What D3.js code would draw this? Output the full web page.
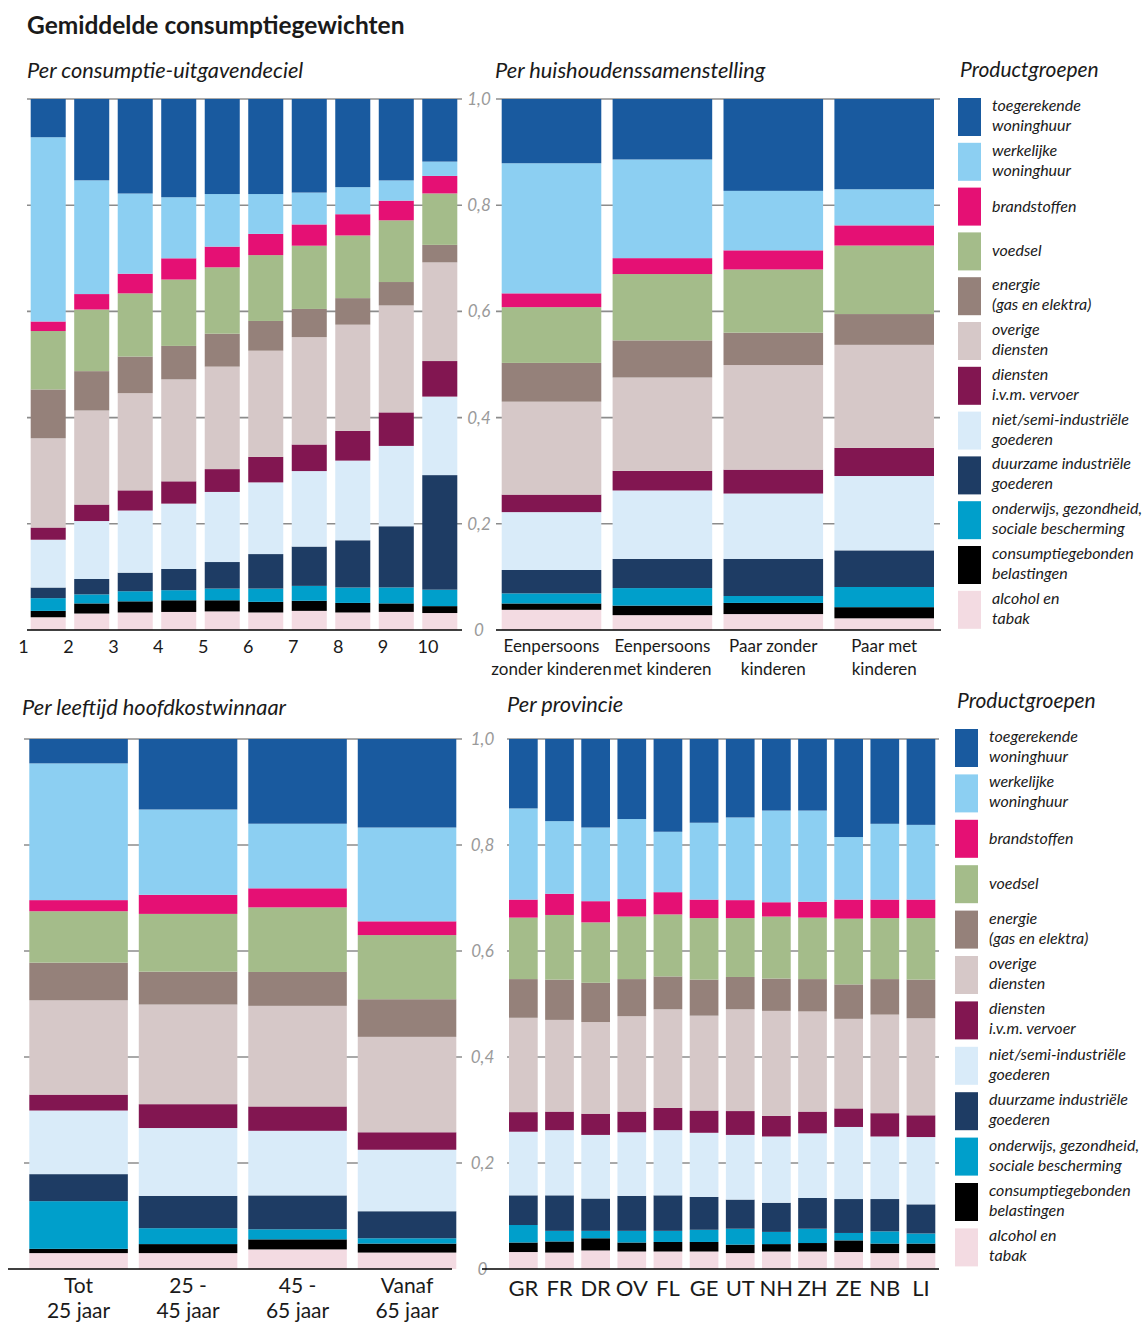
<!DOCTYPE html>
<html lang="nl">
<head>
<meta charset="UTF-8">
<title>Gemiddelde consumptiegewichten</title>
<script src="https://cdn.jsdelivr.net/npm/d3@7"></script>
<style>
  body { margin: 0; background: #fff; }
  svg text { font-family: Lato, "Open Sans", sans-serif; fill: #1a1a1a; }
  .ytick { font-style: italic; fill: #9a9a9a; font-size: 17px; }
  .title { font-style: italic; font-size: 21.8px; }
  .legend text { font-style: italic; font-size: 16px; }
</style>
</head>
<body>
<div id="chart"></div>
<script>
// productgroepen, van boven naar onder in de staaf
const groepen = ["toegerekende woninghuur", "werkelijke woninghuur", "brandstoffen", "voedsel",
  "energie", "overige diensten", "diensten i.v.m. vervoer", "niet/semi-industriele goederen",
  "duurzame industriele goederen", "onderwijs", "belastingen", "alcohol en tabak"];
const legendaRegels = [["toegerekende", "woninghuur"], ["werkelijke", "woninghuur"], ["brandstoffen"],
  ["voedsel"], ["energie", "(gas en elektra)"], ["overige", "diensten"], ["diensten", "i.v.m. vervoer"],
  ["niet/semi-industriële", "goederen"], ["duurzame industriële", "goederen"],
  ["onderwijs, gezondheid,", "sociale bescherming"], ["consumptiegebonden", "belastingen"],
  ["alcohol en", "tabak"]];
const kleuren = ["#195a9f", "#8ccff2", "#e51074", "#a4bc8a", "#95817a", "#d6c8c8",
  "#821651", "#d9ebf9", "#1e3c64", "#009fcb", "#000000", "#f3dbe2"];

const yTicks = [0, 0.2, 0.4, 0.6, 0.8, 1.0];

// per consumptie-uitgavendeciel
const decielen = ["1", "2", "3", "4", "5", "6", "7", "8", "9", "10"];
const decielWaarden = [
  [.072, .347, .018, .110, .092, .168, .023, .090, .020, .024, .012, .024],
  [.153, .214, .029, .116, .074, .177, .031, .109, .029, .017, .019, .031],
  [.178, .151, .037, .119, .069, .183, .038, .117, .035, .019, .021, .033],
  [.185, .115, .040, .125, .063, .192, .042, .123, .040, .019, .022, .034],
  [.179, .099, .039, .125, .062, .193, .043, .132, .050, .022, .021, .035],
  [.179, .075, .040, .124, .056, .200, .048, .135, .065, .025, .020, .033],
  [.176, .060, .040, .119, .053, .202, .050, .142, .074, .028, .019, .036],
  [.166, .051, .040, .118, .050, .200, .056, .150, .089, .029, .018, .033],
  [.153, .038, .037, .116, .044, .201, .063, .151, .115, .030, .016, .034],
  [.118, .027, .033, .097, .033, .186, .067, .148, .216, .031, .013, .032]
];

// per huishoudenssamenstelling
const huishoudens = ["Eenpersoons zonder kinderen", "Eenpersoons met kinderen", "Paar zonder kinderen", "Paar met kinderen"];
const huishoudenLabels = [["Eenpersoons", "zonder kinderen"], ["Eenpersoons", "met kinderen"], ["Paar zonder", "kinderen"], ["Paar met", "kinderen"]];
const huishoudenWaarden = [
  [.121, .245, .026, .105, .073, .175, .033, .109, .044, .019, .012, .038],
  [.114, .186, .030, .125, .070, .176, .037, .129, .055, .033, .018, .028],
  [.173, .112, .036, .119, .061, .197, .045, .123, .070, .013, .021, .030],
  [.170, .068, .038, .129, .058, .194, .053, .140, .069, .038, .021, .022]
];

// per leeftijd hoofdkostwinnaar
const leeftijden = ["Tot 25 jaar", "25 - 45 jaar", "45 - 65 jaar", "Vanaf 65 jaar"];
const leeftijdLabels = [["Tot", "25 jaar"], ["25 -", "45 jaar"], ["45 -", "65 jaar"], ["Vanaf", "65 jaar"]];
const leeftijdWaarden = [
  [.046, .258, .021, .097, .071, .178, .030, .120, .051, .090, .008, .030],
  [.133, .161, .036, .109, .062, .188, .045, .128, .061, .030, .017, .030],
  [.160, .122, .036, .122, .064, .190, .046, .122, .064, .019, .019, .037],
  [.167, .177, .026, .121, .071, .180, .033, .116, .051, .010, .017, .031]
];

// per provincie
const provincies = ["GR", "FR", "DR", "OV", "FL", "GE", "UT", "NH", "ZH", "ZE", "NB", "LI"];
const provincieWaarden = [
  [.131, .172, .034, .116, .073, .178, .037, .120, .056, .033, .018, .032],
  [.155, .137, .040, .122, .076, .173, .035, .123, .067, .020, .021, .031],
  [.167, .139, .040, .114, .074, .173, .040, .120, .061, .014, .023, .035],
  [.151, .151, .033, .118, .070, .180, .039, .120, .066, .022, .017, .033],
  [.175, .114, .042, .117, .062, .186, .042, .123, .067, .021, .018, .033],
  [.158, .145, .035, .116, .068, .179, .042, .121, .062, .023, .018, .033],
  [.148, .156, .034, .111, .061, .192, .045, .122, .055, .030, .016, .030],
  [.135, .173, .027, .117, .061, .198, .039, .125, .055, .023, .014, .033],
  [.135, .172, .030, .116, .061, .189, .041, .122, .058, .027, .016, .033],
  [.185, .118, .036, .124, .065, .169, .035, .136, .064, .014, .022, .032],
  [.160, .143, .035, .115, .067, .186, .044, .118, .061, .023, .018, .030],
  [.162, .141, .035, .116, .073, .183, .041, .127, .055, .019, .018, .030]
];

const width = 1148;
const height = 1322;

const svg = d3.select("#chart")
  .append("svg")
  .attr("width", width)
  .attr("height", height);

const kleur = d3.scaleOrdinal().domain(groepen).range(kleuren);
const tickFormat = d => d === 0 ? "0" : d3.format(".1f")(d).replace(".", ",");

function drawPanel(p) {
  const rows = p.cats.map((c, i) => {
    const r = {cat: c};
    groepen.forEach((g, j) => r[g] = p.values[i][j]);
    return r;
  });
  // onderste groep eerst stapelen
  const series = d3.stack()
    .keys(groepen.slice().reverse())
    .offset(d3.stackOffsetExpand)(rows);

  const x = d3.scaleBand().domain(p.cats).range(p.xRange).paddingInner(p.pad).paddingOuter(0);
  const y = d3.scaleLinear().domain([0, 1]).range(p.yRange);

  const g = svg.append("g");

  // grijze rasterlijnen
  g.append("g").selectAll("line")
    .data(yTicks.filter(d => d > 0))
    .join("line")
    .attr("x1", p.grid[0]).attr("x2", p.grid[1])
    .attr("y1", d => y(d)).attr("y2", d => y(d))
    .attr("stroke", "#8c8c8c")
    .attr("stroke-width", 1.6);

  g.append("g").selectAll("g")
    .data(series)
    .join("g")
    .attr("fill", d => kleur(d.key))
    .selectAll("rect")
    .data(d => d)
    .join("rect")
    .attr("x", d => x(d.data.cat))
    .attr("width", x.bandwidth())
    .attr("y", d => y(d[1]))
    .attr("height", d => y(d[0]) - y(d[1]));

  // nul-as
  g.append("line")
    .attr("x1", p.base[0]).attr("x2", p.base[1])
    .attr("y1", y(0)).attr("y2", y(0))
    .attr("stroke", "#000")
    .attr("stroke-width", 1.6);

  if (p.tickX) {
    g.append("g").selectAll("text")
      .data(yTicks)
      .join("text")
      .attr("class", "ytick")
      .attr("x", p.tickX)
      .attr("y", d => y(d))
      .attr("dy", "0.35em")
      .attr("text-anchor", "middle")
      .text(tickFormat);
  }

  g.append("text")
    .attr("class", "title")
    .attr("x", p.titleX)
    .attr("y", p.titleY)
    .text(p.title);

  return {x, y, g};
}

function drawLegend(lx, ly, step) {
  const lg = svg.append("g").attr("class", "legend");
  lg.append("text")
    .attr("x", lx + 2)
    .attr("y", ly - 21)
    .style("font-size", "21px")
    .text("Productgroepen");
  const item = lg.selectAll("g.item")
    .data(groepen)
    .join("g")
    .attr("class", "item")
    .attr("transform", (d, i) => "translate(" + lx + "," + (ly + i * step) + ")");
  item.append("rect")
    .attr("width", 23)
    .attr("height", 38)
    .attr("fill", d => kleur(d));
  item.each(function(d, i) {
    const lines = legendaRegels[i];
    const t = d3.select(this).append("text").attr("x", 34);
    lines.forEach((l, k) => {
      t.append("tspan")
        .attr("x", 34)
        .attr("y", lines.length === 1 ? 24 : 13 + k * 20)
        .text(l);
    });
  });
}

// titel
svg.append("text")
  .attr("x", 27)
  .attr("y", 34)
  .style("font-weight", "bold")
  .style("font-size", "24.5px")
  .text("Gemiddelde consumptiegewichten");

// paneel 1: decielen
const p1 = drawPanel({
  cats: decielen, values: decielWaarden,
  xRange: [30.7, 457.3], pad: 0.195, yRange: [630, 99],
  grid: [27, 462], base: [27, 462], tickX: 479,
  title: "Per consumptie-uitgavendeciel", titleX: 27, titleY: 78
});
const labelX = d3.scaleLinear().domain([1, 10]).range([23.5, 428]);
p1.g.append("g").selectAll("text")
  .data(decielen)
  .join("text")
  .attr("x", d => labelX(+d))
  .attr("y", 653)
  .attr("text-anchor", "middle")
  .style("font-size", "18px")
  .text(d => d);

// paneel 2: huishoudens
const p2 = drawPanel({
  cats: huishoudens, values: huishoudenWaarden,
  xRange: [501.7, 934], pad: 0.102, yRange: [630, 99],
  grid: [496, 940], base: [496, 941],
  title: "Per huishoudenssamenstelling", titleX: 495, titleY: 78
});
p2.g.append("g").selectAll("text")
  .data(huishoudens)
  .join("text")
  .attr("text-anchor", "middle")
  .style("font-size", "17px")
  .each(function(d, i) {
    const t = d3.select(this);
    huishoudenLabels[i].forEach((l, k) => {
      t.append("tspan")
        .attr("x", p2.x(d) + p2.x.bandwidth() / 2)
        .attr("y", 652 + k * 23)
        .text(l);
    });
  });

// paneel 3: leeftijd
const p3 = drawPanel({
  cats: leeftijden, values: leeftijdWaarden,
  xRange: [29.3, 456.3], pad: 0.1, yRange: [1269, 739],
  grid: [24, 462], base: [8, 452], tickX: 482.5,
  title: "Per leeftijd hoofdkostwinnaar", titleX: 22, titleY: 715
});
p3.g.append("g").selectAll("text")
  .data(leeftijden)
  .join("text")
  .attr("text-anchor", "middle")
  .style("font-size", "21px")
  .each(function(d, i) {
    const t = d3.select(this);
    leeftijdLabels[i].forEach((l, k) => {
      t.append("tspan")
        .attr("x", p3.x(d) + p3.x.bandwidth() / 2)
        .attr("y", 1293 + k * 25)
        .text(l);
    });
  });

// paneel 4: provincies
const p4 = drawPanel({
  cats: provincies, values: provincieWaarden,
  xRange: [509, 935.3], pad: 0.206, yRange: [1269, 739],
  grid: [507, 939], base: [482, 939],
  title: "Per provincie", titleX: 507, titleY: 712
});
p4.g.append("g").selectAll("text")
  .data(provincies)
  .join("text")
  .attr("x", d => p4.x(d) + p4.x.bandwidth() / 2)
  .attr("y", 1296)
  .attr("text-anchor", "middle")
  .style("font-size", "22px")
  .text(d => d);

// legenda's
drawLegend(958, 98, 44.8);
drawLegend(955, 729, 45.4);
</script>
</body>
</html>
